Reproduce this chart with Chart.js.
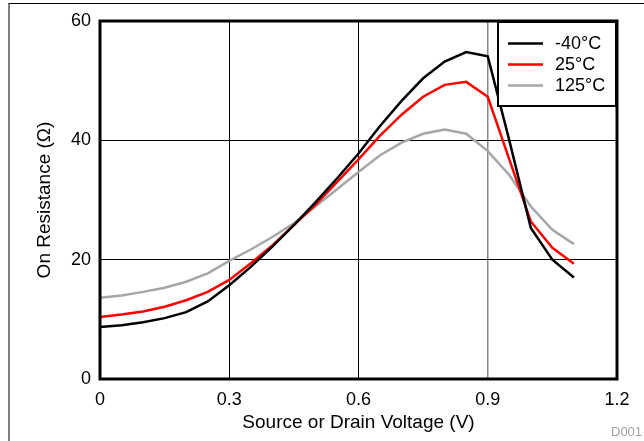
<!DOCTYPE html>
<html>
<head>
<meta charset="utf-8">
<script src="https://cdn.jsdelivr.net/npm/chart.js@4"></script>
<style>
  html, body { margin: 0; padding: 0; background: #fff; }
  #wrap { position: relative; width: 644px; height: 441px; overflow: hidden; }
  #frame { position: absolute; left: 8px; top: 3px; width: 700px; height: 500px;
           border-left: 2px solid #7f7f7f; border-top: 1px solid #000; box-sizing: border-box; }
  canvas { position: absolute; left: 0; top: 0; }
</style>
</head>
<body>
<div id="wrap">
  <div id="frame"></div>
  <canvas id="c" width="644" height="441"></canvas>
</div>
<script>
const voltage = [0, 0.05, 0.1, 0.15, 0.2, 0.25, 0.3, 0.35, 0.4, 0.45, 0.5, 0.55, 0.6, 0.65, 0.7, 0.75, 0.8, 0.85, 0.9, 0.95, 1.0, 1.05, 1.1];
const rMinus40 = [8.7, 9.0, 9.5, 10.2, 11.2, 13.0, 15.7, 18.8, 22.2, 25.8, 29.6, 33.6, 37.8, 42.4, 46.6, 50.4, 53.2, 54.8, 54.1, 40.0, 25.3, 20.0, 17.0];
const r25 = [10.4, 10.8, 11.3, 12.1, 13.2, 14.6, 16.6, 19.4, 22.4, 25.8, 29.2, 33.0, 36.8, 40.8, 44.3, 47.3, 49.3, 49.8, 47.3, 36.8, 26.4, 22.0, 19.3];
const r125 = [13.6, 14.0, 14.6, 15.3, 16.3, 17.7, 19.8, 21.7, 23.8, 26.1, 28.9, 31.8, 34.7, 37.5, 39.6, 41.1, 41.8, 41.1, 38.2, 34.2, 28.9, 25.0, 22.6];
const seriesLabels = ['-40°C', '25°C', '125°C'];
const xTicks = [0, 0.3, 0.6, 0.9, 1.2];
const yTicks = [0, 20, 40, 60];
const xTitle = 'Source or Drain Voltage (V)';
const yTitle = 'On Resistance (Ω)';
const footnote = 'D001';

const FONT = 'Liberation Sans, Arial, sans-serif';
const colors = ['#000000', '#ff0000', '#a6a6a6'];
const seriesValues = [rMinus40, r25, r125];

const datasets = seriesValues.map((vals, i) => ({
  label: seriesLabels[i],
  data: voltage.map((v, j) => ({ x: v, y: vals[j] })),
  borderColor: colors[i],
  backgroundColor: colors[i],
  borderWidth: 2.5,
  pointRadius: 0,
  tension: 0,
  fill: false
}));

const framePlugin = {
  id: 'framePlugin',
  afterDraw(chart) {
    const { ctx, chartArea: a } = chart;
    ctx.save();
    ctx.strokeStyle = '#000';
    ctx.lineWidth = 3;
    ctx.strokeRect(a.left, a.top, a.right - a.left, a.bottom - a.top);
    const bx = 498, by = 22, bw = 118, bh = 84;
    ctx.fillStyle = '#fff';
    ctx.fillRect(bx, by, bw, bh);
    ctx.lineWidth = 2;
    ctx.strokeRect(bx, by, bw, bh);
    ctx.font = '18px ' + FONT;
    ctx.textBaseline = 'middle';
    ctx.textAlign = 'left';
    chart.data.datasets.forEach((ds, i) => {
      const y = 43.5 + i * 21;
      ctx.strokeStyle = ds.borderColor;
      ctx.lineWidth = 2.5;
      ctx.beginPath();
      ctx.moveTo(508, y);
      ctx.lineTo(543, y);
      ctx.stroke();
      ctx.fillStyle = '#000';
      ctx.fillText(ds.label, 555, y + 1);
    });
    ctx.font = '13px ' + FONT;
    ctx.fillStyle = '#a0a0a0';
    ctx.textBaseline = 'alphabetic';
    ctx.fillText(footnote, 611, 436);
    ctx.restore();
  }
};

new Chart(document.getElementById('c'), {
  type: 'line',
  data: { datasets },
  options: {
    responsive: false,
    animation: false,
    devicePixelRatio: 1,
    layout: { padding: { left: 0, top: 21, right: 27, bottom: 0 } },
    plugins: { legend: { display: false }, tooltip: { enabled: false } },
    scales: {
      x: {
        type: 'linear',
        min: 0, max: 1.2,
        afterBuildTicks(scale) { scale.ticks = xTicks.map(v => ({ value: v })); },
        afterFit(scale) { scale.height = 62; },
        ticks: {
          color: '#000',
          font: { family: FONT, size: 18 },
          padding: 10,
          maxRotation: 0,
          callback: (v) => String(v)
        },
        grid: {
          color: (c) => (c.tick && Math.abs(c.tick.value - 0.9) < 1e-6) ? '#888' : '#000',
          lineWidth: (c) => (c.tick && Math.abs(c.tick.value - 0.9) < 1e-6) ? 1.5 : 1,
          drawTicks: false
        },
        border: { display: false },
        title: {
          display: true, text: xTitle, color: '#000',
          font: { family: FONT, size: 19 },
          padding: { top: 0, bottom: 7 }
        }
      },
      y: {
        min: 0, max: 60,
        afterBuildTicks(scale) { scale.ticks = yTicks.map(v => ({ value: v })); },
        afterFit(scale) { scale.width = 100; },
        ticks: {
          color: '#000',
          font: { family: FONT, size: 18 },
          padding: 9
        },
        grid: { color: '#000', lineWidth: 1, drawTicks: false },
        border: { display: false },
        title: {
          display: true, text: yTitle, color: '#000',
          font: { family: FONT, size: 19 },
          padding: { top: 33, bottom: 33 }
        }
      }
    }
  },
  plugins: [framePlugin]
});
</script>
</body>
</html>
